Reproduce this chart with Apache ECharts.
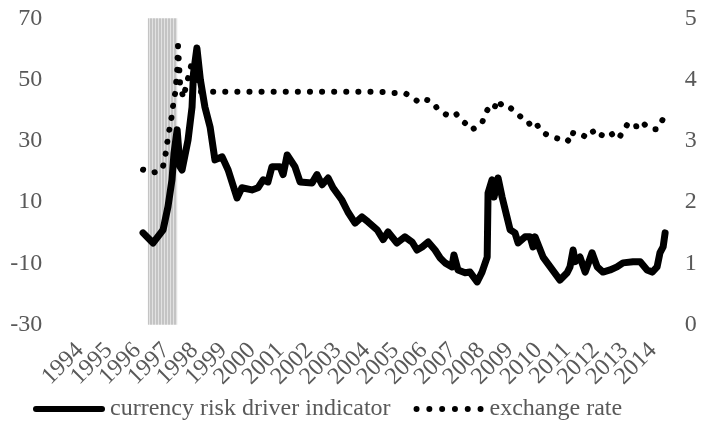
<!DOCTYPE html>
<html>
<head>
<meta charset="utf-8">
<script src="https://cdn.jsdelivr.net/npm/echarts@6/dist/echarts.min.js"></script>
<style>
  html, body { margin: 0; padding: 0; background: #fff; }
  #chart { width: 714px; height: 427px; }
</style>
</head>
<body>
<div id="chart"></div>
<script>
// x positions in decimal years
const riskYears = [
  1996.20, 1996.55, 1996.90, 1997.07, 1997.21, 1997.28, 1997.39, 1997.49, 1997.56,
  1997.77, 1997.91, 1997.96, 1998.08, 1998.20, 1998.36, 1998.54, 1998.71, 1998.96,
  1999.17, 1999.48, 1999.65, 2000.00, 2000.21, 2000.39, 2000.56, 2000.70, 2000.98,
  2001.09, 2001.23, 2001.50, 2001.68, 2002.10, 2002.27, 2002.45, 2002.66, 2002.83,
  2003.14, 2003.35, 2003.60, 2003.84, 2004.05, 2004.37, 2004.58, 2004.75, 2005.06,
  2005.34, 2005.59, 2005.76, 2005.94, 2006.15, 2006.39, 2006.57, 2006.74, 2006.98,
  2007.05, 2007.19, 2007.44, 2007.61, 2007.86, 2008.03, 2008.21, 2008.24, 2008.38,
  2008.45, 2008.59, 2008.73, 2008.90, 2009.01, 2009.18, 2009.29, 2009.53, 2009.71,
  2009.81, 2009.88, 2010.16, 2010.41, 2010.75, 2011.00, 2011.10, 2011.21, 2011.28,
  2011.45, 2011.63, 2011.87, 2012.05, 2012.25, 2012.50, 2012.74, 2012.95, 2013.30,
  2013.55, 2013.79, 2013.97, 2014.14, 2014.24, 2014.35, 2014.42
];
const riskValues = [
  0, -3.3, 1, 8.5, 17.3, 26, 33.6, 21.6, 20.5,
  30.3, 41, 52, 60.3, 50, 41, 34.5, 23.8, 24.8,
  20.5, 11.4, 14.7, 14, 14.7, 17.3, 16.6, 21.6, 21.6,
  19, 25.4, 21.6, 16.6, 16.3, 19, 15.7, 17.9, 14.7,
  10.7, 6.8, 3.2, 5.2, 3.6, 1, -2.2, 0.3, -3.3,
  -1.3, -3, -5.6, -4.6, -3, -5.6, -8.2, -9.8, -11.1,
  -7.2, -12.1, -13, -12.8, -16, -12.8, -7.9, 13, 17.3,
  11.7, 17.9, 11.7, 5.2, 1, 0, -3.3, -1.3, -1.3,
  -4.6, -1.3, -7.9, -11.1, -15.4, -13, -11.1, -5.6, -9.4,
  -7.9, -12.8, -6.5, -11.1, -12.8, -12.1, -11.1, -9.8, -9.4,
  -9.4, -12.1, -12.8, -11.1, -6.5, -4.6, 0
];

const fxYears = [
  1996.20, 1996.55, 1996.86, 1996.93, 1997.00, 1997.07, 1997.18, 1997.25, 1997.32,
  1997.39, 1997.42, 1997.49, 1997.60, 1997.66, 1997.91, 1998.01, 1998.12, 1998.22,
  2004.47, 2004.99, 2005.34, 2005.62, 2005.80, 2005.97, 2006.29, 2006.50, 2006.81,
  2007.09, 2007.30, 2007.44, 2007.65, 2007.86, 2008.03, 2008.14, 2008.31, 2008.45,
  2008.59, 2008.73, 2008.94, 2009.25, 2009.43, 2009.60, 2009.78, 2009.95, 2010.13,
  2010.30, 2010.47, 2010.75, 2010.93, 2011.10, 2011.21, 2011.35, 2011.52, 2011.70,
  2011.87, 2012.01, 2012.18, 2012.39, 2012.57, 2012.78, 2012.92, 2013.02, 2013.13,
  2013.27, 2013.44, 2013.58, 2013.72, 2013.97, 2014.14, 2014.35
];
const fxValues = [
  2.53, 2.48, 2.53, 2.64, 2.82, 3.06, 3.34, 3.58, 3.78,
  4.11, 4.55, 3.95, 3.70, 3.67, 4.29, 4.12, 3.99, 3.80,
  3.80, 3.78, 3.78, 3.70, 3.64, 3.69, 3.64, 3.51, 3.42,
  3.46, 3.34, 3.29, 3.18, 3.23, 3.29, 3.45, 3.57, 3.53,
  3.67, 3.57, 3.57, 3.45, 3.37, 3.34, 3.21, 3.26, 3.14,
  3.10, 3.06, 3.03, 3.05, 2.98, 3.13, 3.14, 3.10, 3.05,
  3.14, 3.19, 3.10, 3.05, 3.11, 3.03, 3.13, 3.21, 3.29,
  3.23, 3.24, 3.32, 3.26, 3.19, 3.19, 3.36
];

const crisisStart = 1996.37;
const crisisEnd = 1997.39;

const leftTicks = { min: -30, max: 70, interval: 20 };
const rightTicks = { min: 0, max: 5, interval: 1 };

const FONT = "'Liberation Serif', 'Times New Roman', serif";
const GREY = "#595959";

// legend icons: a thick bar and a row of six dots
const solidIcon = "path://M3,0 L69,0 A3,3 0 0,1 69,6 L3,6 A3,3 0 0,1 3,0 Z";
const dotsIcon =
  "path://" +
  [3, 15.8, 28.6, 41.4, 54.2, 67]
    .map((c) => "M" + (c - 3) + ",3 A3,3 0 1,0 " + (c + 3) + ",3 A3,3 0 1,0 " + (c - 3) + ",3 Z")
    .join(" ");

const makeHatch = () => {
  const c = document.createElement("canvas");
  c.width = 3;
  c.height = 4;
  const ctx = c.getContext("2d");
  ctx.fillStyle = "#c4c4c4";
  ctx.fillRect(0, 0, 3, 4);
  ctx.fillStyle = "#e2e2e2";
  ctx.fillRect(2, 0, 1, 4);
  return c;
};

const getOption = () => {
  return {
    animation: false,
    grid: { left: 51.35, right: 32.25, top: 18.3, bottom: 102.2 },
    legend: {
      data: [
        { name: "currency risk driver indicator", icon: solidIcon },
        { name: "exchange rate", icon: dotsIcon },
      ],
      left: 33,
      top: 397,
      padding: 0,
      itemWidth: 72,
      itemHeight: 6,
      itemGap: 23,
      textStyle: { fontFamily: FONT, fontSize: 24, color: GREY },
    },
    xAxis: {
      type: "value",
      min: 1993,
      max: 2015,
      interval: 1,
      axisLine: { show: false },
      axisTick: { show: false },
      splitLine: { show: false },
      axisLabel: {
        rotate: 45,
        margin: 22,
        showMinLabel: false,
        showMaxLabel: false,
        fontFamily: FONT,
        fontSize: 24,
        color: GREY,
        formatter: (v) => String(v),
      },
    },
    yAxis: [
      {
        type: "value",
        min: leftTicks.min,
        max: leftTicks.max,
        interval: leftTicks.interval,
        axisLine: { show: false },
        axisTick: { show: false },
        splitLine: { show: false },
        axisLabel: { margin: 9, fontFamily: FONT, fontSize: 24, color: GREY },
      },
      {
        type: "value",
        min: rightTicks.min,
        max: rightTicks.max,
        interval: rightTicks.interval,
        axisLine: { show: false },
        axisTick: { show: false },
        splitLine: { show: false },
        axisLabel: { margin: 3, fontFamily: FONT, fontSize: 24, color: GREY },
      },
    ],
    series: [
      {
        name: "crisis",
        type: "line",
        data: [],
        z: 1,
        markArea: {
          silent: true,
          itemStyle: { color: { image: makeHatch(), repeat: "repeat" } },
          data: [[{ xAxis: crisisStart, yAxis: leftTicks.min }, { xAxis: crisisEnd, yAxis: leftTicks.max }]],
        },
      },
      {
        name: "currency risk driver indicator",
        type: "line",
        z: 3,
        symbol: "none",
        data: riskYears.map((y, i) => [y, riskValues[i]]),
        lineStyle: { color: "#000", width: 7, join: "round", cap: "round" },
        itemStyle: { color: "#000" },
      },
      {
        name: "exchange rate",
        type: "line",
        yAxisIndex: 1,
        z: 4,
        symbol: "none",
        data: fxYears.map((y, i) => [y, fxValues[i]]),
        lineStyle: { color: "#000", width: 6, type: [0.1, 12], cap: "round", join: "round" },
        itemStyle: { color: "#000" },
      },
    ],
  };
};

const chart = echarts.init(document.getElementById("chart"));
chart.setOption(getOption());
</script>
</body>
</html>
